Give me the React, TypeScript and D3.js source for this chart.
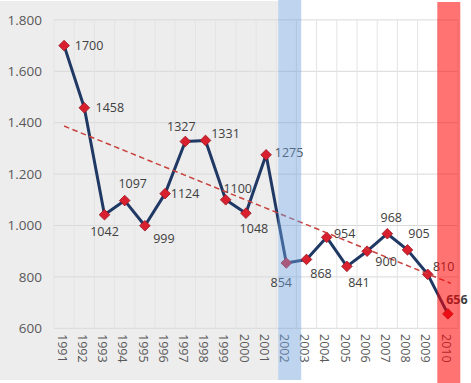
import React from "react";
import * as d3 from "d3";

const years = ["1991","1992","1993","1994","1995","1996","1997","1998","1999","2000","2001","2002","2003","2004","2005","2006","2007","2008","2009","2010"];
const values = [1700,1458,1042,1097,999,1124,1327,1331,1100,1048,1275,854,868,954,841,900,968,905,810,656];
const yTicks = [600,800,1000,1200,1400,1600,1800];
const trendValues = [1387, 775]; // trendline value at first and last year
const highlightBlue = "2002";
const highlightRed = "2010";
// label centre nudges relative to each point (layout only)
const labelNudge: [number, number][] = [
  [25,0],[25.5,0],[0,17],[8,-16.5],[19,13],[20,0],[-4,-14.5],[20,-6.5],[12,-11],[8,15],
  [23,-2],[-5,20],[14.5,14],[18,-4],[12,16],[19,10.5],[4,-16],[11.5,-16],[16,-7.5],[9,-14]
];

const W = 471, H = 383;
const fmt = (v: number) => d3.format(",")(v).replace(/,/g, ".");

export default function App() {
  const x = d3.scaleBand<string>().domain(years).range([54, 458]).padding(0);
  const bw = x.bandwidth();
  const cx = (yr: string) => (x(yr) as number) + bw / 2;
  const y = d3.scaleLinear().domain([600, 1800]).range([328.3, 19.9]);

  const pts = years.map((yr, i) => ({ yr, v: values[i], px: cx(yr), py: y(values[i]) }));
  const line = d3.line<typeof pts[0]>().x(d => d.px).y(d => d.py);

  const diamond = d3.symbol().type(d3.symbolDiamond2).size(72)();
  const font = "'Open Sans', 'Liberation Sans', sans-serif";

  return (
    <svg width={W} height={H} style={{ position: "absolute", left: 0, top: 0, background: "#fff" }}>
      <rect x={0} y={1} width={(x(highlightBlue) as number) + 2} height={379} fill="#ededed" />
      {/* horizontal grid */}
      {yTicks.map(t => (
        <line key={t} x1={54} x2={458} y1={y(t)} y2={y(t)} stroke="#d9d9d9" strokeWidth={1} />
      ))}
      {/* vertical grid */}
      {years.concat(["end"]).map((yr, i) => {
        const gx = 54 + i * bw;
        return <line key={"v" + i} x1={gx} x2={gx} y1={y(1800)} y2={y(600)} stroke="#e4e4e4" strokeWidth={1} />;
      })}
      {/* y tick labels */}
      {yTicks.map(t => (
        <text key={"yl" + t} x={42} y={y(t)} dy="0.35em" textAnchor="end" fontFamily={font} fontSize={13.5} fill="#595959">{fmt(t)}</text>
      ))}
      {/* x tick labels */}
      {years.map(yr => (
        <text key={"xl" + yr} transform={`translate(${cx(yr) - 2},${334}) rotate(90)`} dy="0.35em" textAnchor="start" fontFamily={font} fontSize={12.5} fill="#595959">{yr}</text>
      ))}
      {/* main line */}
      <path d={line(pts) as string} fill="none" stroke="#1f3864" strokeWidth={3} strokeLinejoin="round" />
      {/* markers */}
      {pts.map(p => (
        <path key={"m" + p.yr} d={diamond as string} transform={`translate(${p.px},${p.py})`} fill="#d8202f" stroke="#9c1522" strokeWidth={0.8} />
      ))}
      {/* trendline */}
      <line x1={cx(years[0])} x2={cx(years[years.length - 1]) + 3} y1={y(trendValues[0])} y2={y(trendValues[1])} stroke="#c8413c" strokeWidth={1.5} strokeDasharray="5.5,3.5" />
      {/* data labels */}
      {pts.map((p, i) => (
        <text key={"dl" + p.yr} x={p.px + labelNudge[i][0]} y={p.py + labelNudge[i][1]} dy="0.35em" textAnchor="middle"
          fontFamily={font} fontSize={12.5} fill="#404040" fontWeight={p.yr === highlightRed ? 700 : 400}>{p.v}</text>
      ))}
      {/* highlight bands */}
      <rect x={(x(highlightBlue) as number) + 2} y={0} width={23} height={380} fill="rgb(110,160,220)" opacity={0.45} />
      <rect x={(x(highlightRed) as number) - 0.5} y={2} width={23} height={381} fill="rgb(255,0,0)" opacity={0.55} />
    </svg>
  );
}
